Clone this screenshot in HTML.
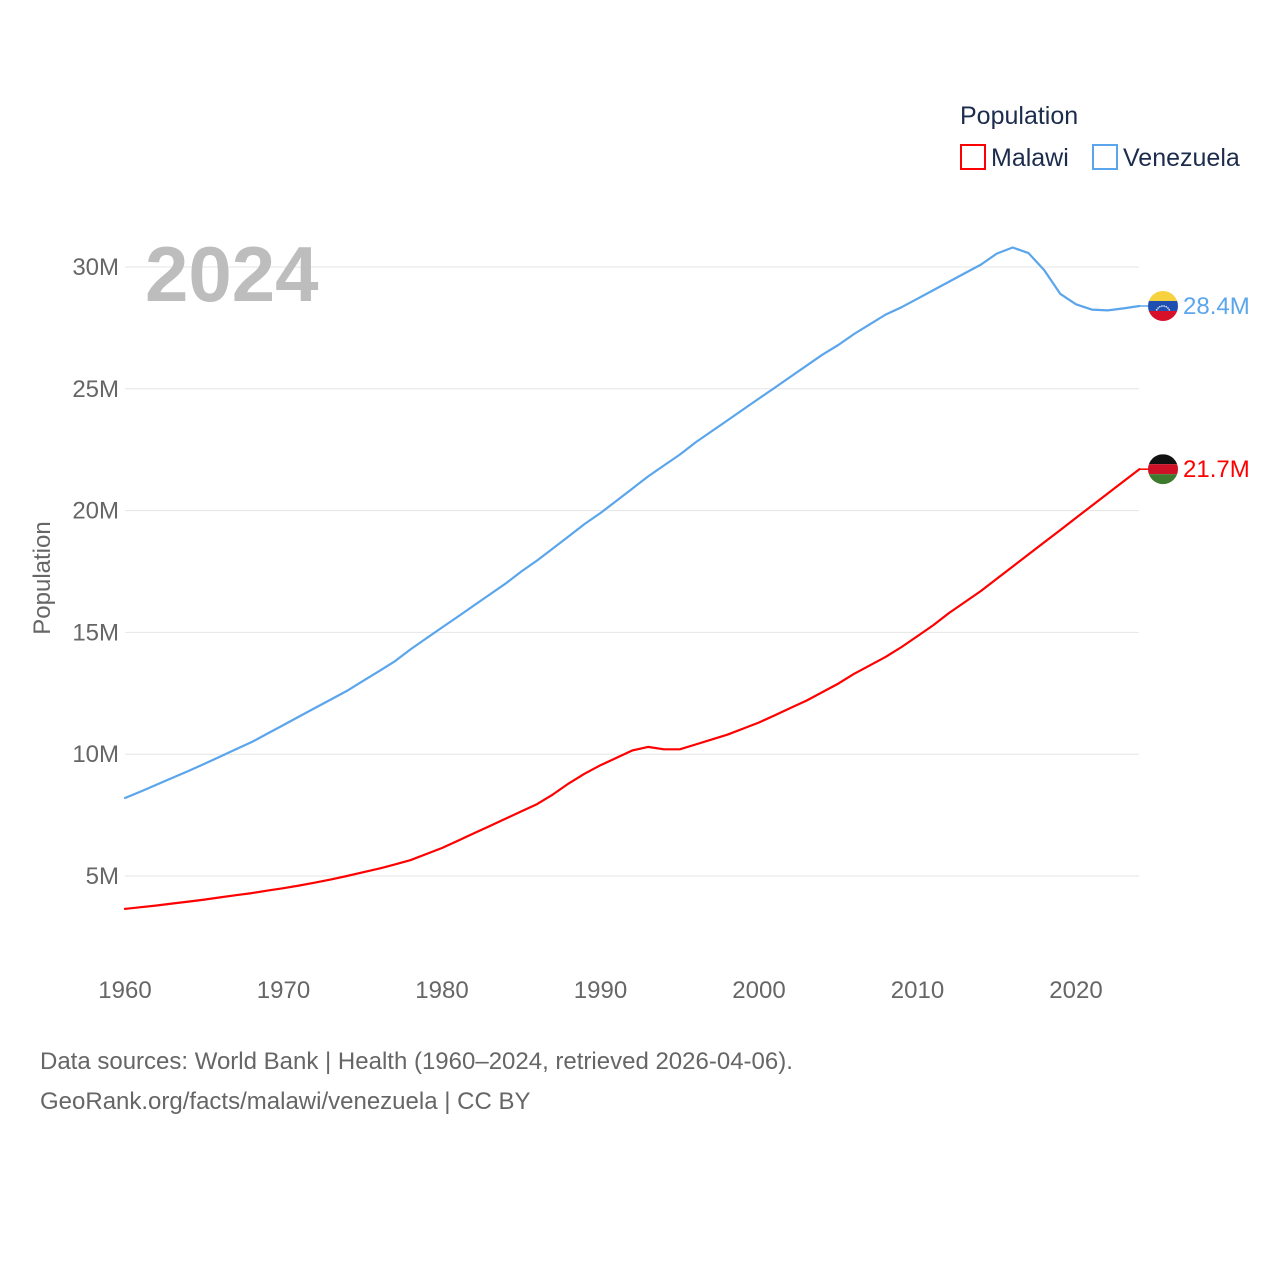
<!DOCTYPE html>
<html><head><meta charset="utf-8"><style>
body{margin:0;background:#fff;font-family:"Liberation Sans",sans-serif}
svg text{font-family:"Liberation Sans",sans-serif}
</style></head><body>
<svg id="chart" width="1280" height="1280" xmlns="http://www.w3.org/2000/svg">
<text x="960" y="124" font-size="25" fill="#1c2c4c">Population</text>
<g><rect x="961" y="145" width="24" height="24" fill="none" stroke="#ff0000" stroke-width="2"/><text x="991" y="166" font-size="25" fill="#1c2c4c">Malawi</text></g>
<g><rect x="1093" y="145" width="24" height="24" fill="none" stroke="#5aa5ec" stroke-width="2"/><text x="1123" y="166" font-size="25" fill="#1c2c4c">Venezuela</text></g>
<g id="grid"></g>
<g id="yticks"></g>
<g id="xticks"></g>
<text x="145" y="301" font-size="78" font-weight="bold" fill="#bdbdbd">2024</text>
<text transform="translate(50,578) rotate(-90)" text-anchor="middle" font-size="24" fill="#666">Population</text>
<g id="series"></g>
<text x="40" y="1069" font-size="24" fill="#666">Data sources: World Bank | Health (1960–2024, retrieved 2026-04-06).</text>
<text x="40" y="1109" font-size="24" fill="#666">GeoRank.org/facts/malawi/venezuela | CC BY</text>
</svg>
<script>
const years=[];for(let y=1960;y<=2024;y++)years.push(y);
const venezuela=[8.2,8.47,8.75,9.03,9.31,9.6,9.9,10.2,10.5,10.85,11.2,11.55,11.9,12.25,12.6,13.0,13.4,13.8,14.3,14.75,15.2,15.65,16.1,16.55,17.0,17.5,17.95,18.45,18.95,19.45,19.9,20.4,20.9,21.4,21.85,22.3,22.8,23.25,23.7,24.15,24.6,25.05,25.5,25.95,26.4,26.8,27.25,27.65,28.05,28.35,28.7,29.05,29.4,29.75,30.1,30.55,30.8,30.57,29.87,28.9,28.47,28.25,28.22,28.3,28.4];
const malawi=[3.65,3.72,3.79,3.87,3.95,4.03,4.12,4.21,4.3,4.4,4.5,4.61,4.73,4.86,5.0,5.15,5.3,5.47,5.65,5.9,6.15,6.45,6.75,7.05,7.35,7.65,7.95,8.35,8.8,9.2,9.55,9.85,10.15,10.3,10.2,10.2,10.4,10.6,10.8,11.05,11.3,11.6,11.9,12.2,12.55,12.9,13.3,13.65,14.0,14.4,14.85,15.3,15.8,16.25,16.7,17.2,17.7,18.2,18.7,19.2,19.7,20.2,20.7,21.2,21.7];
const yTicks=[5,10,15,20,25,30];
const yTickLabels=["5M","10M","15M","20M","25M","30M"];
const xTicks=[1960,1970,1980,1990,2000,2010,2020];
const NS="http://www.w3.org/2000/svg";
const X=y=>125+(y-1960)*(1076-125)/60;
const Y=v=>997.8-v*24.36;
function mk(t,a,p){const e=document.createElementNS(NS,t);for(const k in a)e.setAttribute(k,a[k]);p.appendChild(e);return e;}
const grid=document.getElementById('grid'),yt=document.getElementById('yticks'),xt=document.getElementById('xticks'),ser=document.getElementById('series');
yTicks.forEach((v,i)=>{
 const l=mk('line',{x1:125,x2:1139,y1:Y(v),y2:Y(v),stroke:'#e6e6e6','stroke-width':1},grid);
 
 
 const t=mk('text',{x:119,y:Y(v)+8,'text-anchor':'end','font-size':24,fill:'#666'},yt);t.textContent=yTickLabels[i];
 
 
});
xTicks.forEach(v=>{
 const t=mk('text',{x:X(v),y:998,'text-anchor':'middle','font-size':24,fill:'#666'},xt);t.textContent=v;
 
 
});
function series(vals,color,name,label,flag,stars){
 const d=vals.map((v,i)=>(i?'L':'M')+X(years[i]).toFixed(1)+','+Y(v).toFixed(1)).join('');
 const p=mk('path',{d:d,fill:'none',stroke:color,'stroke-width':2.2,'stroke-linejoin':'round','stroke-linecap':'round'},ser);
 
 
 const lv=vals[vals.length-1],ly=Y(lv),lx=X(years[years.length-1]);
 mk('line',{x1:lx,x2:1148,y1:ly,y2:ly,stroke:color,'stroke-width':1.5},ser);
 const g=mk('g',{},ser);
 
 
 mk('clipPath',{id:'c'+name},g);
 mk('circle',{cx:1163,cy:ly,r:15},g.lastChild);
 const gg=mk('g',{'clip-path':'url(#c'+name+')'},g);
 flag.forEach((c,i)=>mk('rect',{x:1148,y:ly-15+i*10,width:30,height:10,fill:c},gg));
 if(stars){for(let k=0;k<8;k++){const a=Math.PI*(0.15+0.7*k/7);mk('circle',{cx:1163-7*Math.cos(a),cy:ly+4-7*Math.sin(a)+3,r:0.8,fill:'#fff'},gg);}}
 const t=mk('text',{x:1183,y:ly+8,'font-size':24,fill:color},ser);t.textContent=label;
 
 
}
series(venezuela,'#5aa5ec','venezuela',venezuela[venezuela.length-1].toFixed(1)+'M',['#f7d23e','#1f4fb0','#d8102a'],true);
series(malawi,'#ff0000','malawi',malawi[malawi.length-1].toFixed(1)+'M',['#111','#ce1126','#3d7a2e'],false);
</script>
</body></html>
